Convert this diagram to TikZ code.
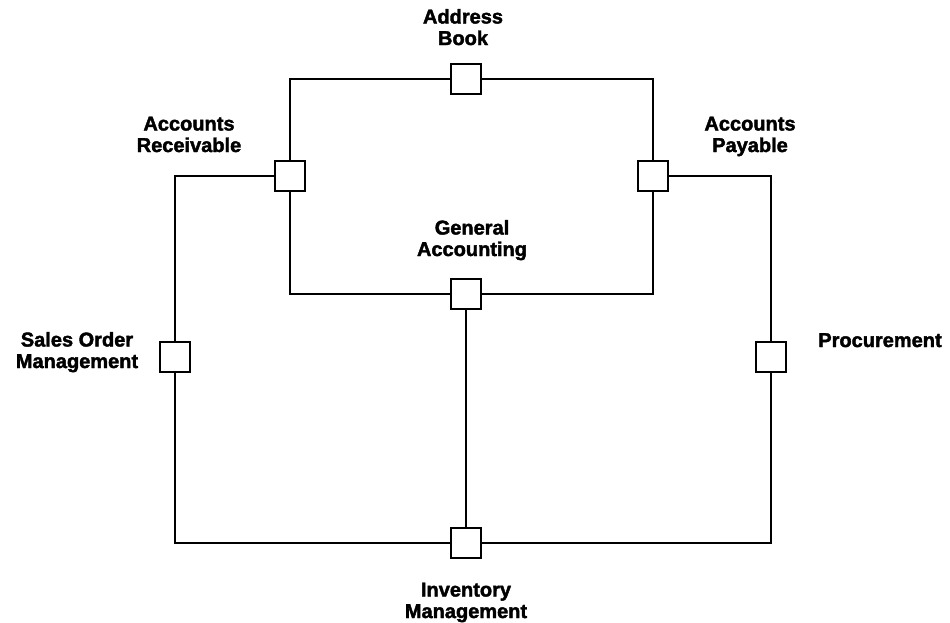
\documentclass[tikz,border=0pt]{standalone}
\usepackage{fontspec}
\setmainfont{Liberation Sans}[BoldFeatures={FakeBold=2}]
\begin{document}
\begin{tikzpicture}[x=1pt,y=-1pt,
  modbox/.style={draw=black,fill=white,line width=1.2pt,minimum width=30pt,minimum height=30pt,inner sep=0pt},
  lab/.style={align=center,font=\fontsize{20}{21.5}\selectfont\bfseries,inner sep=0pt,anchor=base},
  wire/.style={line width=1.2pt}]
\useasboundingbox (0,0) rectangle (950,622);
% boxes
\node[modbox] (AB) at (466,79) {};
\node[modbox] (AR) at (290,176) {};
\node[modbox] (AP) at (653,176) {};
\node[modbox] (GA) at (466,294) {};
\node[modbox] (SOM) at (175,357) {};
\node[modbox] (PR) at (771,357) {};
\node[modbox] (IM) at (466,543) {};
% connectors
\draw[wire] (AR.north) |- (AB.west);
\draw[wire] (AB.east) -| (AP.north);
\draw[wire] (AR.south) |- (GA.west);
\draw[wire] (GA.east) -| (AP.south);
\draw[wire] (AR.west) -| (SOM.north);
\draw[wire] (SOM.south) |- (IM.west);
\draw[wire] (IM.east) -| (PR.south);
\draw[wire] (PR.north) |- (AP.east);
\draw[wire] (GA.south) -- (IM.north);
% labels (base = baseline of last line)
\node[lab] (tAB) at (463,45) {Address\\Book};
\node[lab] (tAR) at (189,152) {Accounts\\Receivable};
\node[lab] (tAP) at (750,152) {Accounts\\Payable};
\node[lab] (tGA) at (472,256) {General\\Accounting};
\node[lab] (tSOM) at (77,368) {Sales Order\\Management};
\node[lab] (tPR) at (880,347) {Procurement};
\node[lab] (tIM) at (466,618) {Inventory\\Management};
\end{tikzpicture}
\end{document}
